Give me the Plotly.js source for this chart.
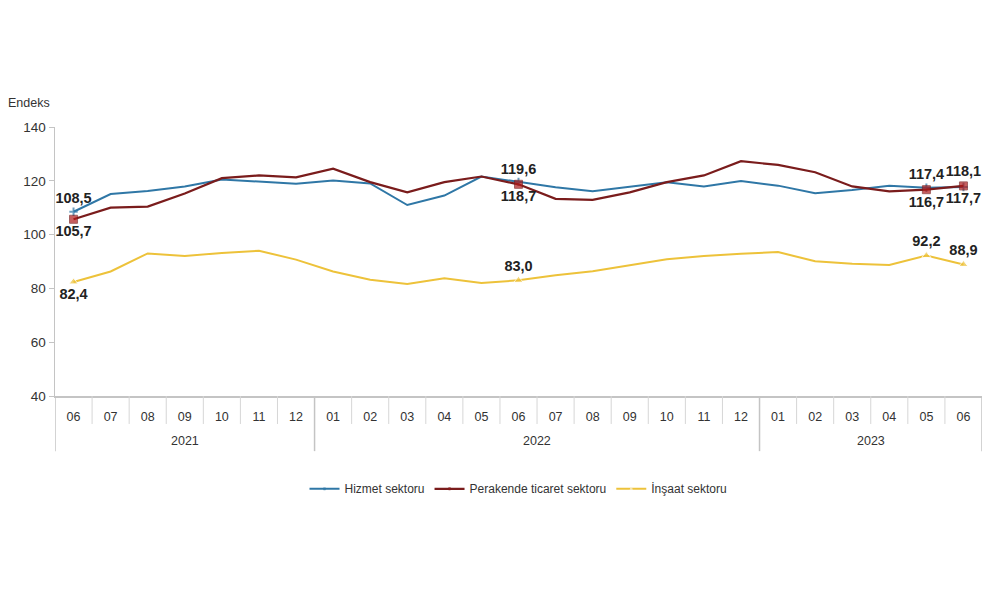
<!DOCTYPE html>
<html>
<head>
<meta charset="utf-8">
<script src="https://cdn.plot.ly/plotly-3.0.1.min.js"></script>
<style>html,body{margin:0;padding:0;background:#fff;}#chart{width:1000px;height:593px;}</style>
</head>
<body>
<div id="chart"></div>
<script>
const years = ["2021","2021","2021","2021","2021","2021","2021",
  "2022","2022","2022","2022","2022","2022","2022","2022","2022","2022","2022","2022",
  "2023","2023","2023","2023","2023","2023"];
const months = ["06","07","08","09","10","11","12",
  "01","02","03","04","05","06","07","08","09","10","11","12",
  "01","02","03","04","05","06"];
const hizmet = [108.5,115.1,116.2,117.9,120.5,119.7,118.9,120.1,119.0,111.0,114.5,121.6,119.6,117.6,116.1,117.9,119.5,117.9,119.9,118.2,115.4,116.6,118.2,117.4,117.7];
const perakende = [105.7,110.0,110.4,115.3,121.0,122.0,121.3,124.5,119.5,115.7,119.5,121.6,118.7,113.3,112.9,115.7,119.5,122.0,127.3,125.9,123.2,117.9,116.1,116.7,118.1];
const insaat = [82.4,86.3,93.0,92.0,93.2,94.0,90.7,86.3,83.2,81.6,83.8,82.0,83.0,84.9,86.4,88.5,90.8,92.0,92.9,93.5,90.1,89.2,88.7,92.2,88.9];
const labeled = [0,12,23,24];
const seriesNames = ["Hizmet sektoru","Perakende ticaret sektoru","İnşaat sektoru"];

const idx = months.map((m,i)=>i);
function labels(vals){return vals.map((v,i)=>labeled.includes(i)?v.toFixed(1).replace('.',','):'');}
function sizes(vals,s){return vals.map((v,i)=>labeled.includes(i)?s:0);}
function pos(map){return months.map((m,i)=>map[i]||'middle center');}

const lblFont = {family:"Liberation Sans, Arial, sans-serif", size:14.5, color:"#222", weight:"bold"};

const traces = [
 {x:idx, y:hizmet, name:seriesNames[0], type:'scatter', mode:'lines+markers+text',
  line:{color:'#2F77A6', width:2}, marker:{symbol:'cross-thin', size:sizes(hizmet,6), color:'#2F77A6', line:{color:'#2F77A6',width:2}},
  text:labels(hizmet), textposition:pos({0:'top center',12:'top center',23:'top center',24:'bottom center'}), textfont:lblFont, cliponaxis:false},
 {x:idx, y:perakende, name:seriesNames[1], type:'scatter', mode:'lines+markers+text',
  line:{color:'#7A1C1C', width:2.2}, marker:{symbol:'square', size:sizes(perakende,8), color:'#B01A1A'},
  text:labels(perakende), textposition:pos({0:'bottom center',12:'bottom center',23:'bottom center',24:'top center'}), textfont:lblFont, cliponaxis:false},
 {x:idx, y:insaat, name:seriesNames[2], type:'scatter', mode:'lines+markers+text',
  line:{color:'#EDC23A', width:2}, marker:{symbol:'triangle-up', size:sizes(insaat,8), color:'#EDC23A'},
  text:labels(insaat), textposition:pos({0:'bottom center',12:'top center',23:'top center',24:'top center'}), textfont:lblFont, cliponaxis:false}
];

// separators and year labels derived from the category arrays
const shapes = [];
const annotations = [{text:'Endeks', xref:'paper', yref:'paper', x:-0.053, y:1.088, xanchor:'left', yanchor:'middle', showarrow:false, font:{size:12.5, color:'#333'}}];
for (let i=0;i<=months.length;i++){
  const yearBreak = (i===0 || i===months.length || years[i]!==years[i-1]);
  shapes.push({type:'line', xref:'x', yref:'paper', x0:i-0.5, x1:i-0.5, y0:0, y1: yearBreak? -0.205 : -0.104,
    line:{color: yearBreak? '#c4c4c4':'#d6d6d6', width: yearBreak?1.5:1}});
}
const uniqYears = [...new Set(years)];
uniqYears.forEach(y=>{
  const ids = idx.filter(i=>years[i]===y);
  const mid = (ids[0]+ids[ids.length-1])/2;
  annotations.push({text:y, xref:'x', yref:'paper', x:mid, y:-0.167, xanchor:'center', yanchor:'middle', showarrow:false, font:{size:12.5, color:'#333'}});
});

const layout = {
  width:1000, height:593,
  margin:{l:55, r:18, t:127, b:197},
  paper_bgcolor:'#fff', plot_bgcolor:'#fff',
  font:{family:"Liberation Sans, Arial, sans-serif", color:'#333', size:12},
  showlegend:true,
  legend:{orientation:'h', x:0.5, xanchor:'center', y:-0.345, yanchor:'middle', font:{size:12, color:'#333'}},
  xaxis:{range:[-0.5, months.length-0.5], tickvals:idx, ticktext:months, showline:true, linecolor:'#c4c4c4', linewidth:1.5,
    ticks:'outside', ticklen:8, tickcolor:'rgba(0,0,0,0)', tickfont:{size:12.5, color:'#333'}, showgrid:false, zeroline:false},
  yaxis:{range:[40,140], dtick:20, showline:true, linecolor:'#c4c4c4', linewidth:1.5, ticks:'outside', ticklen:5, tickcolor:'#c4c4c4',
    showgrid:false, zeroline:false, tickfont:{size:13.5, color:'#333'}},
  shapes:shapes,
  annotations:annotations
};
Plotly.newPlot('chart', traces, layout, {displayModeBar:false, staticPlot:true});
</script>
</body>
</html>
